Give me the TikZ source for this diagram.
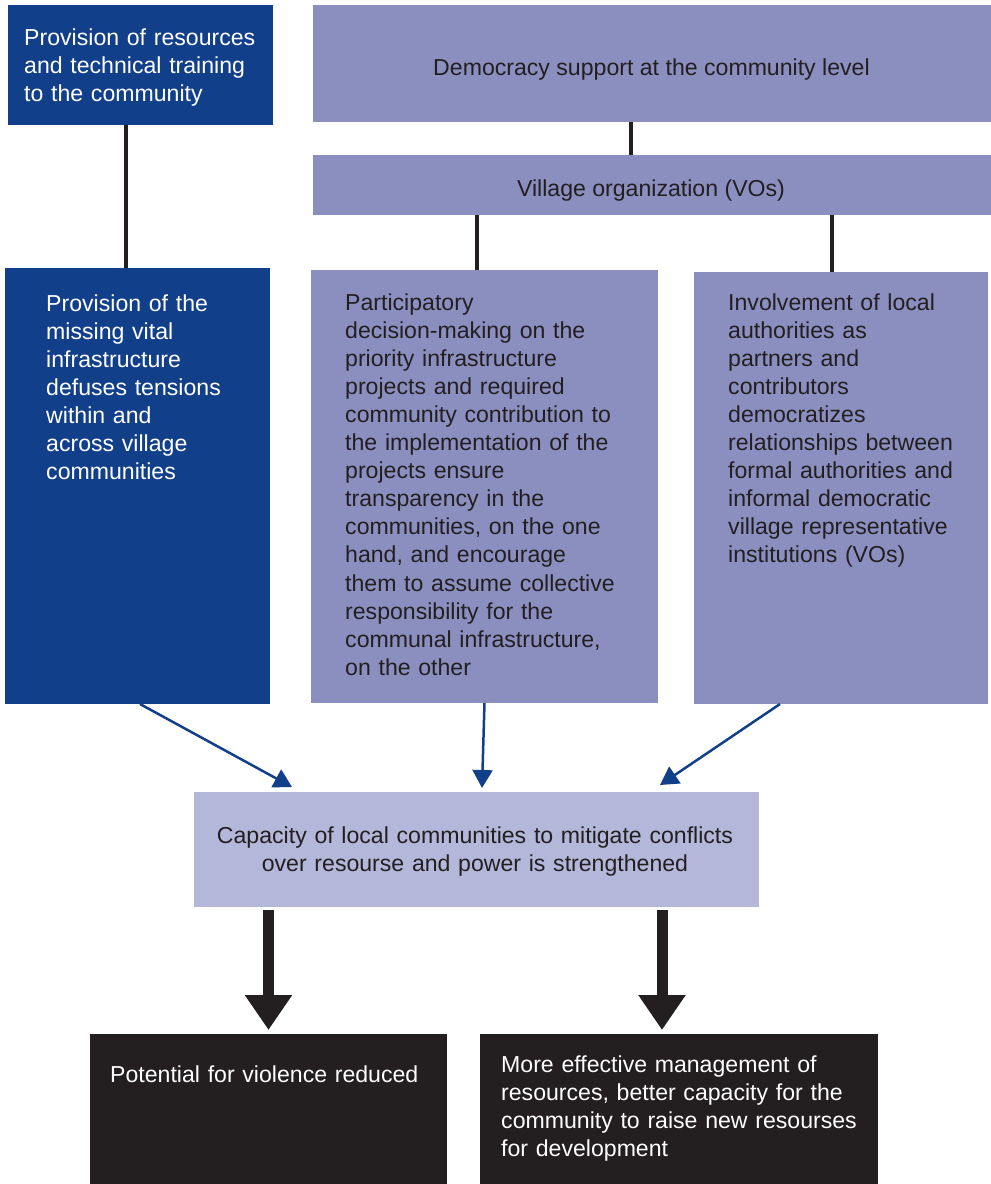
\documentclass[tikz,border=0pt]{standalone}
\usepackage{fontspec}
\setmainfont{Liberation Sans}
\usetikzlibrary{arrows.meta}
\definecolor{dblue}{HTML}{123F8A}
\definecolor{lav}{HTML}{8A8FC0}
\definecolor{llav}{HTML}{B3B7D9}
\definecolor{blk}{HTML}{231F20}
\newcommand\fsz{\fontsize{23.1}{28.1}\selectfont}
\begin{document}
\begin{tikzpicture}[x=1pt,y=1pt,
  box/.style={anchor=north west, inner sep=0pt, outer sep=0pt, draw=none},
  ltxt/.style={anchor=base west, inner sep=0pt, font=\fsz, align=left},
  ctxt/.style={anchor=base, inner sep=0pt, font=\fsz, align=center},
  conn/.style={draw=blk, line width=3.3pt},
  barrow/.style={draw=dblue, line width=2.5pt, -{Triangle[width=20pt,length=18pt]}},
  karrow/.style={draw=blk, line width=11pt, -{Triangle[width=45pt,length=35pt]}}]
\useasboundingbox (0,0) rectangle (991,-1184);
% boxes
\node[box, fill=dblue, minimum width=265pt, minimum height=120pt] (tb) at (8,-5) {};
\node[box, fill=lav, minimum width=678pt, minimum height=117pt] (db) at (313,-5) {};
\node[box, fill=lav, minimum width=678pt, minimum height=60pt] (vo) at (313,-155) {};
\node[box, fill=dblue, minimum width=265pt, minimum height=436pt] (lb) at (5,-268) {};
\node[box, fill=lav, minimum width=347pt, minimum height=433pt] (pb) at (311,-270) {};
\node[box, fill=lav, minimum width=294pt, minimum height=432pt] (ib) at (694,-272) {};
\node[box, fill=llav, minimum width=565pt, minimum height=115pt] (cap) at (194,-792) {};
\node[box, fill=blk, minimum width=357pt, minimum height=150pt] (ob1) at (90,-1034) {};
\node[box, fill=blk, minimum width=398pt, minimum height=150pt] (ob2) at (480,-1034) {};
% texts
\node[ltxt, text=white, text width=255pt] (tbt) at (24,-45) {Provision of resources\\and technical training\\to the community};
\node[ctxt, text=blk] (dbt) at (651.5,-75) {Democracy support at the community level};
\node[ctxt, text=blk] (vot) at (651,-196) {Village organization (VOs)};
\node[ltxt, text=white, text width=222pt] (lbt) at (46,-311) {Provision of the\\missing vital\\infrastructure\\defuses tensions\\within and\\across village\\communities};
\node[ltxt, text=blk, text width=310pt] (pbt) at (345,-310) {Participatory\\decision-making on the\\priority infrastructure\\projects and required\\community contribution to\\the implementation of the\\projects ensure\\transparency in the\\communities, on the one\\hand, and encourage\\them to assume collective\\responsibility for the\\communal infrastructure,\\on the other};
\node[ltxt, text=blk, text width=258pt] (ibt) at (728,-310) {Involvement of local\\authorities as\\partners and\\contributors\\democratizes\\relationships between\\formal authorities and\\informal democratic\\village representative\\institutions (VOs)};
\node[ctxt, text=blk, text width=560pt] (capt) at (475,-843) {Capacity of local communities to mitigate conflicts\\over resourse and power is strengthened};
\node[ltxt, text=white, text width=335pt] (ob1t) at (110,-1082) {Potential for violence reduced};
\node[ltxt, text=white, text width=375pt] (ob2t) at (501,-1072) {More effective management of\\resources, better capacity for the\\community to raise new resourses\\for development};
% black connectors
\coordinate (c1) at ([xshift=-14.5pt]tb.south);
\coordinate (c2) at ([xshift=-21pt]db.south);
\coordinate (c3) at ([xshift=-7.5pt]pb.north);
\coordinate (c4) at ([xshift=-9pt]ib.north);
\draw[conn] (c1) -- (c1 |- lb.north);
\draw[conn] (c2) -- (c2 |- vo.north);
\draw[conn] (c3) -- (c3 |- vo.south);
\draw[conn] (c4) -- (c4 |- vo.south);
% blue arrows
\draw[barrow] ([xshift=2.5pt]lb.south) -- ([xshift=98pt,yshift=5pt]cap.north west);
\draw[barrow] (pb.south) -- ([xshift=5.5pt,yshift=4pt]cap.north);
\draw[barrow] ([xshift=-61pt]ib.south) -- ([xshift=-99pt,yshift=7pt]cap.north east);
% thick arrows
\draw[karrow] ([xshift=-208pt,yshift=-3pt]cap.south) -- ([yshift=4pt]ob1.north);
\draw[karrow] ([xshift=185.5pt,yshift=-3pt]cap.south) -- ([xshift=-17pt,yshift=4pt]ob2.north);
\end{tikzpicture}
\end{document}
